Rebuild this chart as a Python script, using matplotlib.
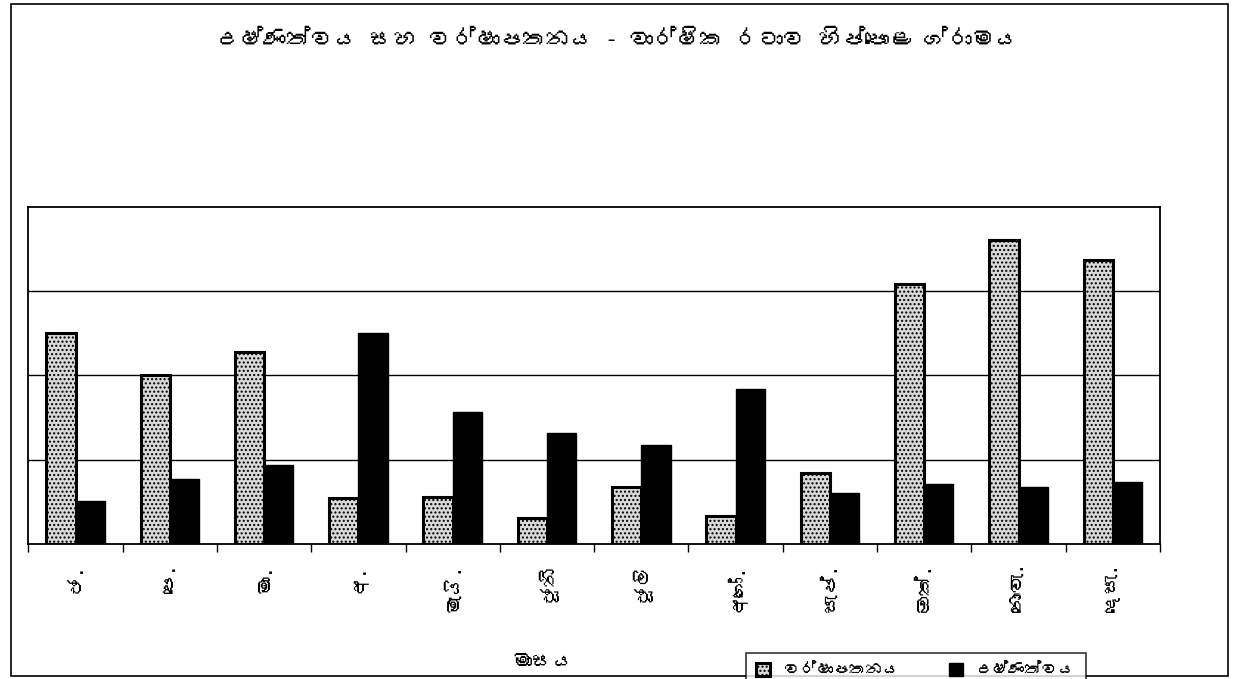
import matplotlib
matplotlib.use("Agg")
import matplotlib.pyplot as plt
from matplotlib import font_manager
from matplotlib.ft2font import FT2Font
from matplotlib.patches import Rectangle
import numpy as np

months = ["ජ.", "පෙ.", "මා.", "අ.", "මැයි.", "ජූනි", "ජූලි", "අගෝ.",
          "සැප්.", "ඔක්.", "නොවැ.", "දෙසැ."]
rainfall = [2.50, 2.00, 2.28, 0.55, 0.56, 0.31, 0.68, 0.33, 0.84, 3.09, 3.61, 3.37]
temperature = [0.51, 0.77, 0.94, 2.50, 1.57, 1.32, 1.18, 1.84, 0.61, 0.71, 0.68, 0.74]

title = "උෂ්ණත්වය සහ වර්ෂාපතනය - වාර්ෂික රටාව හිප්පොළ ග්රාමය"
xlabel = "මාසය"
series_names = ["වර්ෂාපතනය", "උෂ්ණත්වය"]


def find_sinhala_font():
    # look for any installed font that has Sinhala glyphs
    for f in font_manager.fontManager.ttflist:
        try:
            ft = FT2Font(f.fname)
            if ft.get_char_index(ord("ස")) and ft.get_char_index(ord("ම")):
                return f.name
        except Exception:
            continue
    return None


sinhala = find_sinhala_font()
families = ([sinhala] if sinhala else []) + ["Noto Sans", "DejaVu Sans"]
plt.rcParams["font.family"] = families

fig = plt.figure(figsize=(12.34, 6.79), dpi=100)
fig.patches.append(Rectangle((0.009, 0.004), 0.986, 0.99, transform=fig.transFigure,
                             fill=False, edgecolor="black", linewidth=1.2))

ax = fig.add_axes([0.023, 0.199, 0.917, 0.496])
x = np.arange(len(months))
w = 0.31
ax.bar(x - w / 2, rainfall, w, facecolor="#d9d9d9", edgecolor="black",
       linewidth=2.2, hatch="....", label=series_names[0], zorder=3)
ax.bar(x + w / 2, temperature, w, facecolor="black", edgecolor="black",
       linewidth=1, label=series_names[1], zorder=3)

ax.set_xlim(-0.5, len(months) - 0.5)
ax.set_ylim(0, 4)
ax.set_yticks([1, 2, 3])
ax.yaxis.grid(True, color="black", linewidth=1, zorder=0)
ax.tick_params(axis="y", left=False, labelleft=False)
ax.set_xticks(x)
ax.set_xticklabels(months, rotation=90, fontsize=14)
ax.tick_params(axis="x", length=0, pad=14)
ax.set_xticks(np.arange(-0.5, len(months), 1), minor=True)
ax.tick_params(axis="x", which="minor", length=6, width=1)
for s in ax.spines.values():
    s.set_linewidth(1.3)

# axis title sits low, next to the legend
fig.text(0.44, 0.025, xlabel, fontsize=15, fontweight="bold",
         ha="center", va="center")
fig.suptitle(title, fontsize=17, fontweight="bold", y=0.958)

leg = fig.legend(loc="lower left", bbox_to_anchor=(0.598, -0.025), ncol=2,
                 fontsize=12, frameon=True, fancybox=False, edgecolor="black",
                 handlelength=0.8, handleheight=0.8, columnspacing=3.0,
                 borderpad=0.6)
leg.get_frame().set_linewidth(1.2)

fig.savefig("out.png", dpi=100)
